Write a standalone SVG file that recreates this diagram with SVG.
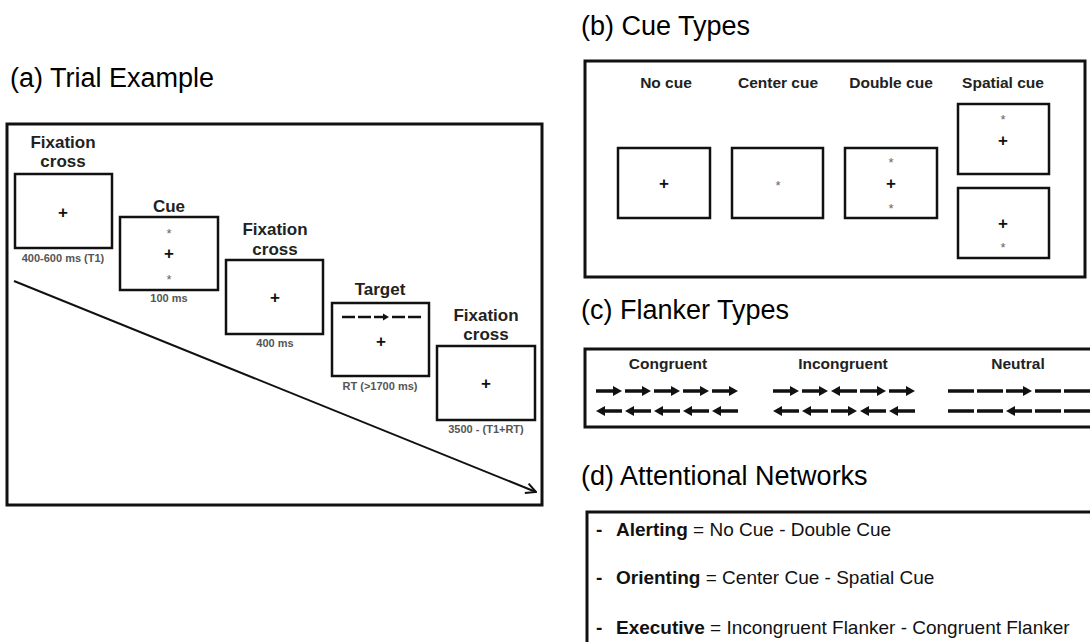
<svg xmlns="http://www.w3.org/2000/svg" width="1090" height="642" viewBox="0 0 1090 642">
<style>
.title{font-family:"Liberation Sans",Arial,sans-serif;font-size:27px;fill:#000}
.frame{fill:none;stroke:#111;stroke-width:3}
.scr{fill:#fff;stroke:#111;stroke-width:2.5}
.lbl{font-family:"Liberation Sans",Arial,sans-serif;font-weight:bold;font-size:17px;fill:#222;text-anchor:middle}
.tm{font-family:"Liberation Sans",Arial,sans-serif;font-weight:bold;font-size:11px;fill:#555;text-anchor:middle}
.clbl{font-family:"Liberation Sans",Arial,sans-serif;font-weight:bold;font-size:15.5px;fill:#222;text-anchor:middle}
.plus{font-family:"Liberation Sans",Arial,sans-serif;font-weight:bold;font-size:17px;fill:#111;text-anchor:middle}
.star{font-family:"Liberation Sans",Arial,sans-serif;font-size:13px;fill:#666;text-anchor:middle}
.net{font-family:"Liberation Sans",Arial,sans-serif;font-size:19px;fill:#111}
.fl{stroke:#111;stroke-width:3.5;fill:none}
.fh{fill:#111}
</style>
<defs>
<g id="ra"><line class="fl" x1="0" y1="0" x2="19" y2="0"/><polygon class="fh" points="17,-5 26,0 17,5"/></g>
<g id="la"><line class="fl" x1="7" y1="0" x2="26" y2="0"/><polygon class="fh" points="9,-5 0,0 9,5"/></g>
<g id="dh"><line class="fl" x1="0" y1="0" x2="26" y2="0"/></g>
<marker id="vhead" viewBox="0 0 12 12" refX="11" refY="6" markerWidth="12" markerHeight="12" markerUnits="userSpaceOnUse" orient="auto"><path d="M1,1 L11,6 L1,11" fill="none" stroke="#111" stroke-width="2"/></marker>
</defs>

<!-- Titles -->
<text class="title" x="10" y="87">(a)  Trial Example</text>
<text class="title" x="581" y="35">(b) Cue Types</text>
<text class="title" x="581" y="319">(c) Flanker Types</text>
<text class="title" x="581" y="485">(d) Attentional Networks</text>

<!-- Panel a -->
<g id="panel-a">
<rect class="frame" x="7" y="124" width="535" height="381"/>
</g>
<g id="connectors">
<line x1="14" y1="281" x2="536" y2="492" stroke="#111" stroke-width="2" marker-end="url(#vhead)"/>
</g>
<g id="step1">
<text class="lbl" x="63" y="148">Fixation</text>
<text class="lbl" x="63" y="167">cross</text>
<rect class="scr" x="15" y="174" width="97" height="74"/>
<text class="plus" x="63" y="218">+</text>
<text class="tm" x="63" y="262">400-600 ms (T1)</text>
</g>
<g id="step2">
<text class="lbl" x="169" y="212">Cue</text>
<rect class="scr" x="120" y="217" width="98" height="73"/>
<text class="star" x="169" y="238">*</text>
<text class="plus" x="169" y="259">+</text>
<text class="star" x="169" y="284">*</text>
<text class="tm" x="169" y="302">100 ms</text>
</g>
<g id="step3">
<text class="lbl" x="275" y="235">Fixation</text>
<text class="lbl" x="275" y="255">cross</text>
<rect class="scr" x="226" y="260" width="97" height="74"/>
<text class="plus" x="275" y="303">+</text>
<text class="tm" x="275" y="347">400 ms</text>
</g>
<g id="step4">
<text class="lbl" x="380" y="295">Target</text>
<rect class="scr" x="332" y="303" width="97" height="73"/>
<g transform="translate(342,317)">
<line x1="0" y1="0" x2="13" y2="0" stroke="#111" stroke-width="2.5"/>
<line x1="16" y1="0" x2="29" y2="0" stroke="#111" stroke-width="2.5"/>
<line x1="32" y1="0" x2="43" y2="0" stroke="#111" stroke-width="2.5"/>
<polygon points="41,-3.5 47,0 41,3.5" fill="#111"/>
<line x1="50" y1="0" x2="63" y2="0" stroke="#111" stroke-width="2.5"/>
<line x1="66" y1="0" x2="79" y2="0" stroke="#111" stroke-width="2.5"/>
</g>
<text class="plus" x="381" y="347">+</text>
<text class="tm" x="380" y="390">RT (&gt;1700 ms)</text>
</g>
<g id="step5">
<text class="lbl" x="486" y="321">Fixation</text>
<text class="lbl" x="486" y="340">cross</text>
<rect class="scr" x="437" y="346" width="98" height="74"/>
<text class="plus" x="486" y="389">+</text>
<text class="tm" x="486" y="433">3500 - (T1+RT)</text>
</g>

<!-- Panel b -->
<g id="panel-b">
<rect class="frame" x="585" y="61" width="500" height="216"/>
</g>
<g id="no-cue">
<text class="clbl" x="666" y="88">No cue</text>
<rect class="scr" x="618" y="148" width="92" height="70"/>
<text class="plus" x="664" y="189">+</text>
</g>
<g id="center-cue">
<text class="clbl" x="778" y="88">Center cue</text>
<rect class="scr" x="732" y="148" width="91" height="70"/>
<text class="star" x="778" y="190">*</text>
</g>
<g id="double-cue">
<text class="clbl" x="891" y="88">Double cue</text>
<rect class="scr" x="845" y="148" width="92" height="70"/>
<text class="star" x="891" y="167">*</text>
<text class="plus" x="891" y="189">+</text>
<text class="star" x="891" y="213">*</text>
</g>
<g id="spatial-cue">
<text class="clbl" x="1003" y="88">Spatial cue</text>
<rect class="scr" x="958" y="104" width="91" height="70"/>
<text class="star" x="1003" y="124">*</text>
<text class="plus" x="1003" y="146">+</text>
<rect class="scr" x="958" y="188" width="91" height="70"/>
<text class="plus" x="1003" y="229">+</text>
<text class="star" x="1003" y="252">*</text>
</g>

<!-- Panel c -->
<g id="panel-c">
<rect class="frame" x="585" y="349" width="520" height="78"/>
</g>
<g id="congruent">
<text class="clbl" x="668" y="369">Congruent</text>
<use href="#ra" x="596" y="391"/><use href="#ra" x="625" y="391"/><use href="#ra" x="654" y="391"/><use href="#ra" x="683" y="391"/><use href="#ra" x="712" y="391"/>
<use href="#la" x="596" y="411"/><use href="#la" x="625" y="411"/><use href="#la" x="654" y="411"/><use href="#la" x="683" y="411"/><use href="#la" x="712" y="411"/>
</g>
<g id="incongruent">
<text class="clbl" x="843" y="369">Incongruent</text>
<use href="#ra" x="773" y="391"/><use href="#ra" x="802" y="391"/><use href="#la" x="831" y="391"/><use href="#ra" x="860" y="391"/><use href="#ra" x="889" y="391"/>
<use href="#la" x="773" y="411"/><use href="#la" x="802" y="411"/><use href="#ra" x="831" y="411"/><use href="#la" x="860" y="411"/><use href="#la" x="889" y="411"/>
</g>
<g id="neutral">
<text class="clbl" x="1018" y="369">Neutral</text>
<use href="#dh" x="948" y="391"/><use href="#dh" x="977" y="391"/><use href="#ra" x="1006" y="391"/><use href="#dh" x="1035" y="391"/><use href="#dh" x="1064" y="391"/>
<use href="#dh" x="948" y="411"/><use href="#dh" x="977" y="411"/><use href="#la" x="1006" y="411"/><use href="#dh" x="1035" y="411"/><use href="#dh" x="1064" y="411"/>
</g>

<!-- Panel d -->
<g id="panel-d">
<rect class="frame" x="587" y="512" width="520" height="140"/>
<text class="net" x="596" y="536"><tspan font-weight="bold">-</tspan></text>
<text class="net" x="616" y="536"><tspan font-weight="bold">Alerting</tspan> = No Cue - Double Cue</text>
<text class="net" x="596" y="584"><tspan font-weight="bold">-</tspan></text>
<text class="net" x="616" y="584"><tspan font-weight="bold">Orienting</tspan> = Center Cue - Spatial Cue</text>
<text class="net" x="596" y="634"><tspan font-weight="bold">-</tspan></text>
<text class="net" x="616" y="634"><tspan font-weight="bold">Executive</tspan> = Incongruent Flanker - Congruent Flanker</text>
</g>
</svg>
